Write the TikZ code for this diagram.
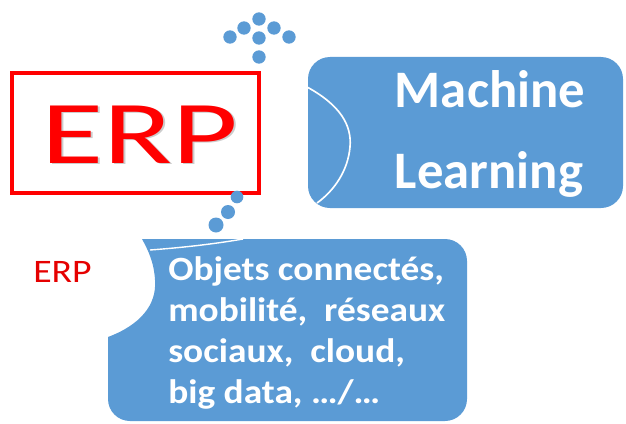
\documentclass[tikz,border=0pt]{standalone}
\usepackage{fontspec}
\setmainfont{Carlito}
\usepackage{xcolor}
\definecolor{blueshape}{HTML}{5B9BD5}
\definecolor{erpred}{HTML}{FF0000}

\tikzset{
  bubble/.style={fill=blueshape},
  dot/.style={fill=blueshape},
  bubbletext/.style={text=white, font=\bfseries\fontsize{29}{35}\selectfont, inner sep=0pt, xscale=1.1},
  bigtext/.style={text=white, font=\bfseries\fontsize{45}{50}\selectfont, inner sep=0pt},
}

\begin{document}
\begin{tikzpicture}[x=0.03cm, y=-0.03cm]
        \useasboundingbox (0,0) rectangle (626,423);
        % Machine learning bubble
        \fill[bubble, rounded corners=0.66cm] (308,57) rectangle (623,208);
        \draw[white, line width=1.4pt] (307,87) .. controls (340,105) and (352,125) .. (350,147)
            .. controls (348,170) and (335,190) .. (317,203);
        \node[bigtext, anchor=base] (machine) at (490,107) {Machine};
        \node[bigtext, anchor=base] (learning) at (489,188) {Learning};
        % ERP frame
        \draw[erpred, line width=2.6pt] (12,73) rectangle (259,193);
        \node[text=gray!40, anchor=base, xscale=1.42, inner sep=0pt,
              font=\fontsize{76.5}{80}\selectfont] (erpshadow) at (141.8,164.8) {ERP};
        \node[text=erpred, anchor=base, xscale=1.42, inner sep=0pt,
              font=\fontsize{76.5}{80}\selectfont] (erp) at (140,163) {ERP};
        % small label
        \node[text=erpred!90!black, anchor=base, xscale=1.15, inner sep=0pt,
              font=\fontsize{28}{30}\selectfont] (erpsmall) at (62.5,282) {ERP};
        % lower bubble
        \fill[bubble] (142,239) -- (445,239) arc[start angle=90, end angle=0, radius=0.66cm]
            -- (467,399) arc[start angle=0, end angle=-90, radius=0.66cm]
            -- (130,421) arc[start angle=270, end angle=180, radius=0.66cm]
            -- (108,337) .. controls (140,325) and (157,305) .. (155,280)
            .. controls (154,262) and (148,250) .. (142,239) -- cycle;
        \draw[white, line width=1.2pt] (150,250) .. controls (190,247) and (220,243) .. (243,239);
        \foreach \t [count=\i] in {{Objets connectés,},{mobilité,~~réseaux},{sociaux,~~cloud,},{big data, \ldots/\ldots}}
            \node[bubbletext, anchor=base west] (line\i) at (168,{280+(\i-1)*41}) {\t};
        % thought dots
        \foreach \p in {(230,37),(244,28),(259,19),(274,28),(289,37),(259,38),(259,57)}
            \fill[dot] \p circle[radius=0.2cm];
        \foreach \p/\r in {(237,197)/0.19,(228,212)/0.21,(216,225)/0.225}
            \fill[dot] \p circle[radius=\r cm];
    \end{tikzpicture}
\end{document}
